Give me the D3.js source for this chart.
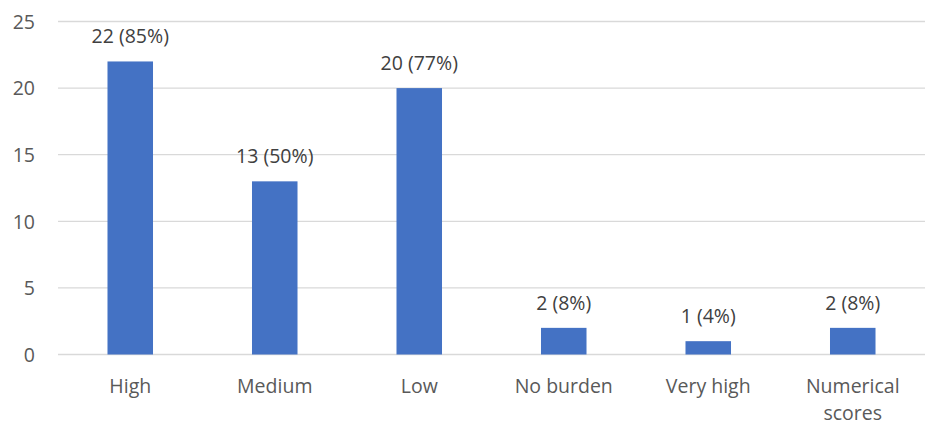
<!DOCTYPE html>
<html>
<head>
<meta charset="utf-8">
<script src="https://cdn.jsdelivr.net/npm/d3@7"></script>
<style>
  html, body { margin: 0; padding: 0; background: #fff; }
  svg text { font-family: "Open Sans", "Noto Sans", sans-serif; fill: #595959; }
</style>
</head>
<body>
<svg id="chart" width="925" height="426"></svg>
<script>
// Burden ratings: counts and share of respondents
const categories = ["High", "Medium", "Low", "No burden", "Very high", "Numerical scores"];
const counts = [22, 13, 20, 2, 1, 2];
const percents = [85, 50, 77, 8, 4, 8];
const yTicks = [0, 5, 10, 15, 20, 25];

const svg = d3.select("#chart");
const margin = { left: 58, right: 0, top: 21.5, bottom: 71.5 };
const W = 925, H = 426;
const FS = 19.5;

const x = d3.scaleBand()
  .domain(categories)
  .range([margin.left, W - margin.right])
  .paddingInner(0.685)
  .paddingOuter(0.3425);

const y = d3.scaleLinear()
  .domain([0, 25])
  .range([H - margin.bottom, margin.top]);

// Horizontal gridlines
svg.append("g")
  .selectAll("line")
  .data(yTicks)
  .join("line")
  .attr("x1", margin.left)
  .attr("x2", W - margin.right)
  .attr("y1", d => y(d))
  .attr("y2", d => y(d))
  .attr("stroke", "#d9d9d9")
  .attr("stroke-width", 1.3);

// Y axis labels
const yAxis = d3.axisLeft(y).tickValues(yTicks).tickSize(0).tickPadding(0);
const gy = svg.append("g")
  .attr("transform", `translate(${margin.left - 23},0)`)
  .call(yAxis);
gy.select(".domain").remove();
gy.selectAll("text")
  .attr("text-anchor", "end")
  .attr("font-size", FS)
  .style("fill", "#595959")
  .attr("dy", "0.35em")
  .style("font-family", "'Open Sans', sans-serif");

// Bars
const data = categories.map((c, i) => ({ c, v: counts[i], p: percents[i] }));
svg.append("g")
  .selectAll("rect")
  .data(data)
  .join("rect")
  .attr("x", d => x(d.c))
  .attr("width", x.bandwidth())
  .attr("y", d => y(d.v))
  .attr("height", d => y(0) - y(d.v))
  .attr("fill", "#4472c4");

// Value labels above bars
svg.append("g")
  .selectAll("text")
  .data(data)
  .join("text")
  .attr("x", d => x(d.c) + x.bandwidth() / 2)
  .attr("y", d => y(d.v) - 18)
  .attr("text-anchor", "middle")
  .attr("font-size", FS)
  .style("fill", "#404040")
  .text(d => `${d.v} (${d.p}%)`);

// Category labels, two-word label split over two lines
const xAxis = d3.axisBottom(x).tickSize(0).tickPadding(0);
const gx = svg.append("g")
  .attr("transform", `translate(0,${y(0)})`)
  .call(xAxis);
gx.select(".domain").remove();
gx.selectAll("text")
  .attr("font-size", FS)
  .style("fill", "#595959")
  .style("font-family", "'Open Sans', sans-serif")
  .attr("y", 0)
  .attr("dy", null)
  .each(function(d) {
    const t = d3.select(this);
    const words = d === "Numerical scores" ? ["Numerical", "scores"] : [d];
    t.text(null);
    words.forEach((w, i) => {
      t.append("tspan")
        .attr("x", 0)
        .attr("y", 38 + i * 27)
        .text(w);
    });
  });
</script>
</body>
</html>
